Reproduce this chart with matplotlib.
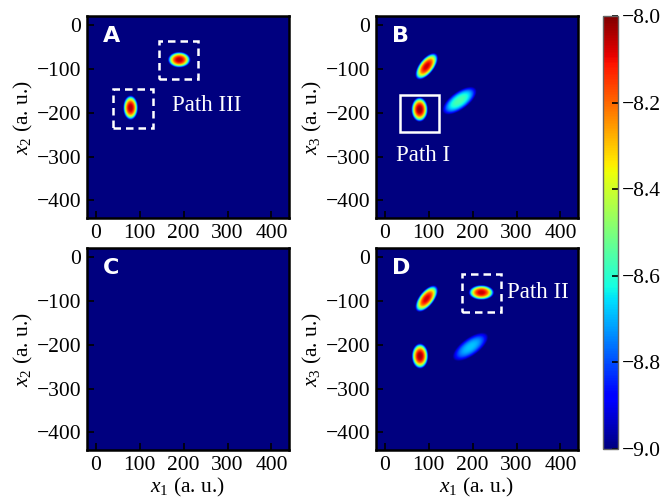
import numpy as np
import matplotlib.pyplot as plt

plt.rcParams['font.family'] = ['Liberation Serif', 'DejaVu Serif']
plt.rcParams['mathtext.fontset'] = 'custom'
plt.rcParams['mathtext.rm'] = 'Liberation Serif'
plt.rcParams['mathtext.it'] = 'Liberation Serif:italic'

# ---- blobs: centre (a.u.), peak (log10), half-extents, tilt (deg) ----
# panel A
a_x = [190, 79]
a_y = [-81, -190]
a_peak = [-8.05, -8.04]
a_hmaj = [26, 28]
a_hmin = [18, 17]
a_ang = [0, 90]
# panel B
b_x = [95, 170, 79]
b_y = [-96, -174, -194]
b_peak = [-8.07, -8.56, -8.02]
b_hmaj = [36, 46, 28]
b_hmin = [17, 20, 19]
b_ang = [52, 36, 90]
# panel C: nothing above the floor
c_x, c_y, c_peak, c_hmaj, c_hmin, c_ang = [], [], [], [], [], []
# panel D
d_x = [95, 80, 195, 220]
d_y = [-95, -226, -205, -81]
d_peak = [-8.07, -8.03, -8.68, -8.06]
d_hmaj = [36, 29, 48, 29]
d_hmin = [17, 19, 20, 17]
d_ang = [52, 90, 36, 0]

floor_log = -9.0
x_lo, x_hi = -20, 440
y_lo, y_hi = -440, 20

xg = np.linspace(x_lo, x_hi, 461)
yg = np.linspace(y_lo, y_hi, 461)
XX, YY = np.meshgrid(xg, yg)


def field(xs, ys, peaks, hmaj, hmin, angs):
    # log10 of a sum of flattened gaussians; each reaches the floor at its half-extent
    z = np.full_like(XX, 1e-12)
    for x0, y0, p, s1, s2, a in zip(xs, ys, peaks, hmaj, hmin, angs):
        t = np.deg2rad(a)
        u = (XX - x0) * np.cos(t) + (YY - y0) * np.sin(t)
        v = -(XX - x0) * np.sin(t) + (YY - y0) * np.cos(t)
        k = (p - floor_log) * np.log(10)
        z += 10.0 ** p * np.exp(-k * ((u / s1) ** 2 + (v / s2) ** 2) ** 1.25)
    return np.log10(z)


panels = [
    ("A", (a_x, a_y, a_peak, a_hmaj, a_hmin, a_ang), r"$x_2$ (a. u.)", False),
    ("B", (b_x, b_y, b_peak, b_hmaj, b_hmin, b_ang), r"$x_3$ (a. u.)", False),
    ("C", (c_x, c_y, c_peak, c_hmaj, c_hmin, c_ang), r"$x_2$ (a. u.)", True),
    ("D", (d_x, d_y, d_peak, d_hmaj, d_hmin, d_ang), r"$x_3$ (a. u.)", True),
]
pos = [(87, 16), (376, 16), (87, 248), (376, 248)]

W, H = 665, 500
fig = plt.figure(figsize=(W / 100, H / 100), dpi=100)

axes = []
for (lab, prm, ylab, bottom), (px, py) in zip(panels, pos):
    ax = fig.add_axes([px / W, 1 - (py + 202) / H, 202 / W, 202 / H])
    im = ax.imshow(field(*prm), origin="lower", extent=[x_lo, x_hi, y_lo, y_hi],
                   cmap="jet", vmin=-9, vmax=-8, interpolation="bilinear", aspect="auto")
    ax.set_xlim(x_lo, x_hi)
    ax.set_ylim(y_lo, y_hi)
    ax.set_xticks([0, 100, 200, 300, 400])
    ax.set_yticks([0, -100, -200, -300, -400])
    ax.tick_params(direction="in", length=5, width=1.2, labelsize=15.5, color="black", pad=4)
    for s in ax.spines.values():
        s.set_linewidth(1.8)
    ax.set_ylabel(ylab, fontsize=15.5, labelpad=1)
    if bottom:
        ax.set_xlabel(r"$x_1$ (a. u.)", fontsize=15.5, labelpad=1)
    ax.text(16, -25, lab, color="white", fontsize=16, fontweight="bold",
            family="DejaVu Sans", va="center", ha="left")
    axes.append(ax)

axA, axB, axC, axD = axes

# path boxes
axA.add_patch(plt.Rectangle((144, -123), 89, 87, fill=False, ec="white", lw=1.8, ls=(0, (3, 2))))
axA.add_patch(plt.Rectangle((40, -234), 90, 87, fill=False, ec="white", lw=1.8, ls=(0, (3, 2))))
axA.text(173, -183, "Path III", color="white", fontsize=16.5, va="center", ha="left")

axB.add_patch(plt.Rectangle((34, -245), 89, 85, fill=False, ec="white", lw=1.8))
axB.text(87, -297, "Path I", color="white", fontsize=16.5, va="center", ha="center")

axD.add_patch(plt.Rectangle((175, -125), 90, 85, fill=False, ec="white", lw=1.8, ls=(0, (3, 2))))
axD.text(278, -82, "Path II", color="white", fontsize=16.5, va="center", ha="left")

cax = fig.add_axes([603 / W, 1 - 449 / H, 15 / W, 433 / H])
cb = fig.colorbar(im, cax=cax, ticks=[-8.0, -8.2, -8.4, -8.6, -8.8, -9.0])
cb.ax.set_yticklabels(["\u22128.0", "\u22128.2", "\u22128.4", "\u22128.6", "\u22128.8", "\u22129.0"])
cb.ax.tick_params(direction="in", length=4, width=1.2, labelsize=15.5, pad=3)
cb.outline.set_linewidth(1.0)
cb.outline.set_edgecolor("0.4")

fig.savefig("out.png", dpi=100)
